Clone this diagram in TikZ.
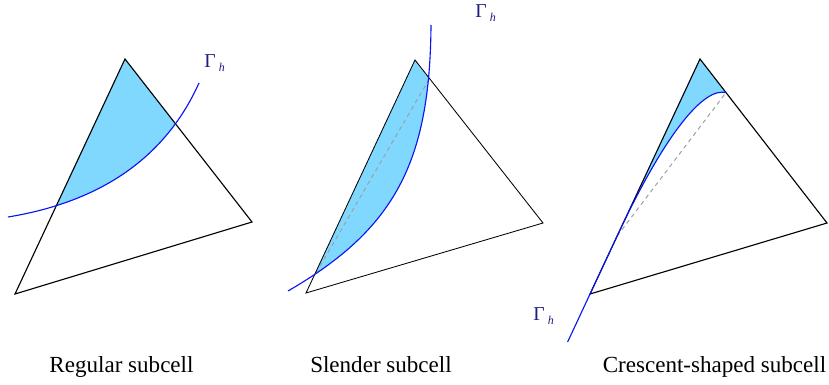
\documentclass[tikz,border=0pt]{standalone}
\usepackage{fontspec}
\setmainfont{Liberation Serif}
\usepackage{tikz}
\definecolor{celeste}{HTML}{80D8FF}
\definecolor{gammablu}{HTML}{0A14F0}
\definecolor{navy}{HTML}{1C1C82}
\newcommand{\gammah}{Γ\kern2.2pt\raisebox{-3.4pt}{\fontsize{8.5}{9}\selectfont\itshape h}}

\begin{document}
\begin{tikzpicture}[
    edge/.style={black, line width=0.8pt, line join=miter},
    interface/.style={gammablu, line width=0.8pt},
    chord/.style={gray!75, line width=0.7pt, dash pattern=on 3pt off 2.6pt},
    gammalabel/.style={navy, anchor=base west, inner sep=0pt, font=\fontsize{14}{16}\selectfont},
    caption/.style={anchor=base, inner sep=0pt, font=\fontsize{16.4}{19}\selectfont}]
  \useasboundingbox (0,0) rectangle (20.725,9.6);
  % Regular subcell
  \coordinate (A1) at (0.375, 2.25);
  \coordinate (B1) at (3.125, 8.125);
  \coordinate (C1) at (6.3, 4.05);
  \begin{scope}
    \clip (A1) -- (B1) -- (C1) -- cycle;
    \fill[celeste] (0.2,4.175) .. controls (2.95,4.625) and (4.3,6.025) .. (4.975,7.525)
      -- (4.975,8.6) -- (0.2,8.6) -- cycle;
  \end{scope}
  \draw[edge] (A1) -- (B1) -- (C1) -- cycle;
  \draw[interface] (0.2,4.175) .. controls (2.95,4.625) and (4.3,6.025) .. (4.975,7.525);
  \node[gammalabel] (gamma1) at (5.1, 7.925) {\gammah};
  % Slender subcell
  \coordinate (A2) at (7.65, 2.275);
  \coordinate (B2) at (10.375, 8.1);
  \coordinate (C2) at (13.575, 4.025);
  \coordinate (P2) at (7.9, 2.775);
  \coordinate (Q2) at (10.7375, 7.6375);
  \begin{scope}
    \clip (A2) -- (B2) -- (C2) -- cycle;
    \fill[celeste] (7.2,2.325) .. controls (9.875,3.875) and (10.75,5.55) .. (10.775,8.975)
      -- (7.2,8.975) -- cycle;
  \end{scope}
  \draw[chord] (P2) -- (Q2);
  \draw[edge, line width=0.6pt] (A2) -- (B2) -- (C2) -- cycle;
  \draw[interface] (7.2,2.325) .. controls (9.875,3.875) and (10.75,5.55) .. (10.775,8.975);
  \node[gammalabel] (gamma2) at (11.875, 9.175) {\gammah};
  % Crescent-shaped subcell
  \coordinate (A3) at (14.75, 2.25);
  \coordinate (B3) at (17.5, 8.125);
  \coordinate (C3) at (20.675, 4.025);
  \coordinate (P3) at (15.429, 3.7);
  \coordinate (Q3) at (18.15, 7.285);
  \fill[celeste] (P3) -- (B3) -- (Q3) .. controls (17.6,7.425) and (16.64,6.29) .. (P3) -- cycle;
  \draw[chord] (P3) -- (Q3);
  \draw[edge] (A3) -- (B3) -- (C3) -- cycle;
  \draw[interface] (14.19,1.05) -- (P3) .. controls (16.64,6.29) and (17.6,7.425) .. (Q3);
  \node[gammalabel] (gamma3) at (13.325, 1.6) {\gammah};
  % Captions
  \node[caption] (regular) at (3.0375, 0.2875) {Regular subcell};
  \node[caption] (slender) at (9.525, 0.2875) {Slender subcell};
  \node[caption] (crescent) at (17.8625, 0.2875) {Crescent-shaped subcell};
\end{tikzpicture}
\end{document}
